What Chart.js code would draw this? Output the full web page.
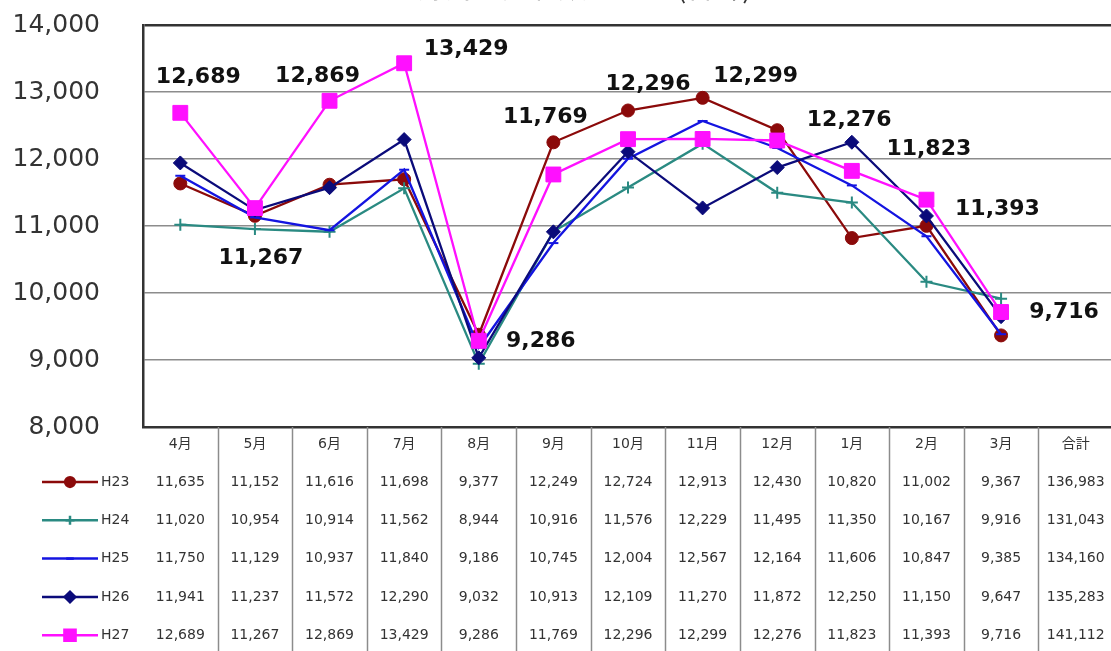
<!DOCTYPE html>
<html>
<head>
<meta charset="utf-8">
<script src="https://cdn.jsdelivr.net/npm/chart.js@4/dist/chart.umd.min.js"></script>
<style>
html, body { margin: 0; padding: 0; overflow: hidden; background: #fff; }
#wrap { width: 1130px; height: 651px; position: relative; }
</style>
</head>
<body>
<div id="wrap"><canvas id="grafico"></canvas></div>
<script>
// categorias (eixo x) e series
var meses = ["4月", "5月", "6月", "7月", "8月", "9月", "10月", "11月", "12月", "1月", "2月", "3月", "合計"];
var anos = ["H23", "H24", "H25", "H26", "H27"];

var h23 = [11635, 11152, 11616, 11698, 9377, 12249, 12724, 12913, 12430, 10820, 11002, 9367];
var h24 = [11020, 10954, 10914, 11562, 8944, 10916, 11576, 12229, 11495, 11350, 10167, 9916];
var h25 = [11750, 11129, 10937, 11840, 9186, 10745, 12004, 12567, 12164, 11606, 10847, 9385];
var h26 = [11941, 11237, 11572, 12290, 9032, 10913, 12109, 11270, 11872, 12250, 11150, 9647];
var h27 = [12689, 11267, 12869, 13429, 9286, 11769, 12296, 12299, 12276, 11823, 11393, 9716];
var totais = [136983, 131043, 134160, 135283, 141112];

var yTicks = [8000, 9000, 10000, 11000, 12000, 13000, 14000];

var tituloTexto = "月別利用者数グラフ (合計)";

// estilo de cada serie
var cores = ["#8b0a0a", "#2a8a82", "#1414e0", "#0b0b7a", "#ff10ff"];
var marcas = ["circle", "cross", "line", "rectRot", "rect"];
var raios = [6.5, 6, 5, 7, 10.5];
var series = [h23, h24, h25, h26, h27];

// deslocamento dos rotulos de H27 (px)
var rotuloDx = [18, 6, -12, 62, 62, -8, 20, 53, 72, 77, 71, 63];
var rotuloDy = [-36, 50, -24, -14, 0, -57, -55, -63, -20, -22, 10, 0];

function fmt(v) { return v.toLocaleString("en-US"); }

var datasets = [];
for (var i = 0; i < series.length; i++) {
    datasets.push({
        label: anos[i],
        data: series[i],
        borderColor: cores[i],
        backgroundColor: cores[i],
        borderWidth: 2.3,
        pointStyle: marcas[i],
        pointRadius: raios[i],
        pointBorderWidth: (marcas[i] == "cross" || marcas[i] == "line") ? 2 : 1,
        pointBorderColor: cores[i],
        pointBackgroundColor: cores[i],
        order: series.length - i,
        tension: 0
    });
}

var titulo = {
    id: "titulo",
    afterDraw: function(chart) {
        var c = chart.ctx;
        c.save();
        c.font = "28px 'Noto Sans CJK JP'";
        c.fillStyle = "#333";
        c.textAlign = "center";
        c.textBaseline = "alphabetic";
        c.fillText(tituloTexto, 585, -2);
        c.restore();
    }
};

var rotulos = {
    id: "rotulos",
    afterDatasetsDraw: function(chart) {
        var c = chart.ctx;
        var meta = chart.getDatasetMeta(4);
        c.save();
        c.font = "bold 22px 'DejaVu Sans'";
        c.fillStyle = "#111";
        c.textAlign = "center";
        c.textBaseline = "middle";
        for (var i = 0; i < h27.length; i++) {
            var p = meta.data[i];
            c.fillText(fmt(h27[i]), p.x + rotuloDx[i], p.y + rotuloDy[i]);
        }
        c.restore();
    }
};

var tabela = {
    id: "tabela",
    afterDraw: function(chart) {
        var c = chart.ctx;
        var xs = chart.scales.x;
        var area = chart.chartArea;
        var col = (area.right - area.left) / meses.length;
        c.save();
        // linhas verticais
        c.strokeStyle = "#8c8c8c";
        c.lineWidth = 1.5;
        for (var k = 1; k <= meses.length; k++) {
            var lx = Math.round(area.left + k * col) + 0.5;
            c.beginPath();
            c.moveTo(lx, area.bottom);
            c.lineTo(lx, chart.height);
            c.stroke();
        }
        c.font = "14px 'DejaVu Sans'";
        c.textBaseline = "middle";
        for (var r = 0; r < series.length; r++) {
            var y = area.bottom + 55 + r * 38.3;
            // amostra da legenda
            c.strokeStyle = cores[r];
            c.lineWidth = 2.5;
            c.beginPath();
            c.moveTo(42, y);
            c.lineTo(98, y);
            c.stroke();
            c.fillStyle = cores[r];
            Chart.helpers.drawPoint(c, {
                pointStyle: marcas[r],
                radius: raios[r] * 0.75,
                borderWidth: (marcas[r] == "cross" || marcas[r] == "line") ? 2 : 1,
                rotation: 0
            }, 70, y);
            c.fillStyle = "#333";
            c.textAlign = "left";
            c.fillText(anos[r], 101, y);
            c.textAlign = "center";
            for (var j = 0; j < meses.length; j++) {
                var v = j < 12 ? series[r][j] : totais[r];
                c.fillText(fmt(v), xs.getPixelForValue(j), y);
            }
        }
        c.restore();
    }
};

var ctx = document.getElementById("grafico");

var chartGraph = new Chart(ctx, {
    type: "line",
    data: {
        labels: meses,
        datasets: datasets
    },
    plugins: [titulo, rotulos, tabela],
    options: {
        responsive: true,
        maintainAspectRatio: false,
        animation: false,
        layout: { padding: { top: 25, right: 17, left: 0, bottom: 0 } },
        plugins: {
            legend: { display: false },
            title: { display: false },
            tooltip: { enabled: false }
        },
        scales: {
            x: {
                type: "category",
                offset: true,
                grid: { display: false, drawTicks: false },
                border: { color: "#333", width: 2.5 },
                ticks: {
                    padding: 9,
                    color: "#333",
                    font: { family: "'DejaVu Sans', 'Noto Sans CJK JP'", size: 14 },
                    maxRotation: 0,
                    autoSkip: false
                },
                afterFit: function(s) { s.height = 224; }
            },
            y: {
                min: yTicks[0],
                max: yTicks[yTicks.length - 1],
                afterBuildTicks: function(s) {
                    s.ticks = yTicks.map(function(v) { return { value: v }; });
                },
                grid: {
                    drawTicks: true,
                    tickLength: 43,
                    tickColor: "rgba(0,0,0,0)",
                    color: function(c) { return c.tick && c.tick.value == 14000 ? "#333" : "#8c8c8c"; },
                    lineWidth: function(c) { return c.tick && c.tick.value == 14000 ? 2.5 : 1.5; }
                },
                border: { color: "#333", width: 2.5 },
                ticks: {
                    padding: 0,
                    color: "#333",
                    font: { family: "'DejaVu Sans'", size: 25 },
                    callback: function(v) { return fmt(v); }
                },
                afterFit: function(s) { s.width = 143; }
            }
        }
    }
});
</script>
</body>
</html>
